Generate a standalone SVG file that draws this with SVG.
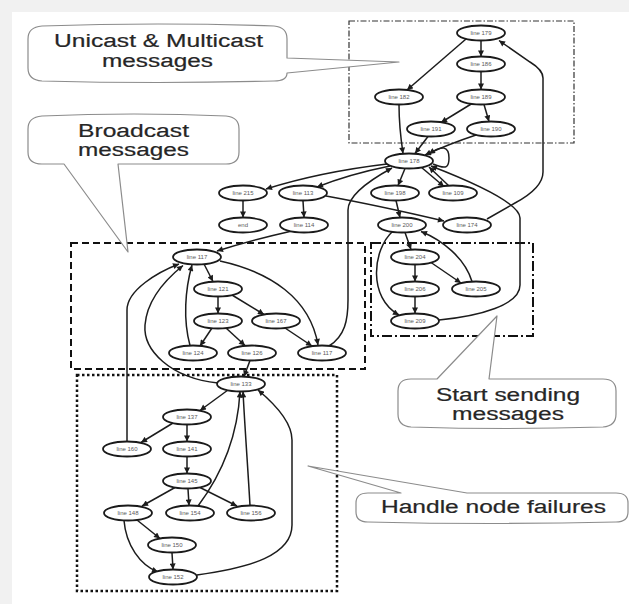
<svg xmlns="http://www.w3.org/2000/svg" width="629" height="604" viewBox="0 0 629 604">
  <style>
    .n ellipse { fill: #fff; stroke: #1a1a1a; stroke-width: 1.8; }
    .n text { font-family: "Liberation Sans", Arial, sans-serif; font-size: 6px; fill: #5a5a5a; text-anchor: middle; }
    .e path { fill: none; stroke: #1c1c1c; stroke-width: 1.5; marker-end: url(#ah); }
    .co path { fill: #fff; stroke: #8c8c8c; stroke-width: 1.2; stroke-linejoin: round; }
    .co text { font-family: "Liberation Sans", Arial, sans-serif; font-size: 18px; fill: #262626; stroke: #262626; stroke-width: 0.2; }
    .grp { fill: none; }
  </style>
  <defs>
    <marker id="ah" viewBox="0 0 10 10" refX="10" refY="5" markerWidth="7" markerHeight="6" markerUnits="userSpaceOnUse" orient="auto">
      <path d="M0,0 L10,5 L0,10 z" fill="#1c1c1c"/>
    </marker>
  </defs>

  <!-- page background -->
  <rect x="0" y="0" width="629" height="604" fill="#f1f1f1"/>
  <rect x="12" y="12" width="617" height="592" fill="#fff"/>

  <!-- group frames -->
  <g id="frames" class="grp">
    <rect x="349" y="21" width="225" height="122" stroke="#333" stroke-width="1.2" stroke-dasharray="6 2 1.5 2"/>
    <rect x="71" y="243" width="294" height="126" stroke="#111" stroke-width="2" stroke-dasharray="7 4"/>
    <rect x="371" y="243" width="162" height="93" stroke="#111" stroke-width="2" stroke-dasharray="10 3 2 3"/>
    <rect x="77" y="375" width="260" height="216" stroke="#111" stroke-width="2.5" stroke-dasharray="2.5 2.5"/>
  </g>

  <!-- callouts -->
  <g id="callout-unicast" class="co">
    <path d="M42,26 Q158,22 274,26 Q287,27 287,39 L287,58 L399,62 L287,73 Q287,81 274,81 Q158,84 42,81 Q28,80 28,68 L28,39 Q28,27 42,26 Z"/>
    <text x="54" y="47" textLength="209" lengthAdjust="spacingAndGlyphs">Unicast &amp; Multicast</text>
    <text x="102" y="67" textLength="111" lengthAdjust="spacingAndGlyphs">messages</text>
  </g>
  <g id="callout-broadcast" class="co">
    <path d="M42,116 Q134,112 226,116 Q239,117 239,129 L239,152 Q239,164 226,164 L118,164 L128,252 L64,164 L42,164 Q28,164 28,152 L28,129 Q28,117 42,116 Z"/>
    <text x="78" y="137" textLength="111" lengthAdjust="spacingAndGlyphs">Broadcast</text>
    <text x="78" y="156" textLength="111" lengthAdjust="spacingAndGlyphs">messages</text>
  </g>
  <g id="callout-start" class="co">
    <path d="M411,379 L437,379 L497,316 L489,379 L603,379 Q616,379 616,391 L616,414 Q616,426 603,427 Q507,430 411,427 Q398,426 398,414 L398,391 Q398,379 411,379 Z"/>
    <text x="436" y="401" textLength="144" lengthAdjust="spacingAndGlyphs">Start sending</text>
    <text x="452" y="420" textLength="112" lengthAdjust="spacingAndGlyphs">messages</text>
  </g>
  <g id="callout-failures" class="co">
    <path d="M368,493 L401,493 L308,466 L467,493 L616,493 Q628,493 628,503 L628,512 Q628,522 616,522 Q492,525 368,522 Q356,522 356,512 L356,503 Q356,493 368,493 Z"/>
    <text x="381" y="513" textLength="225" lengthAdjust="spacingAndGlyphs">Handle node failures</text>
  </g>

  <!-- connectors -->
  <g id="edges" class="e">
    <path d="M481,40.5 L481,56.5"/>
    <path d="M466,39 L407,90"/>
    <path d="M481,71.5 L481,89.5"/>
    <path d="M472,103.5 L441,122.5"/>
    <path d="M484,104.5 L489,121.5"/>
    <path d="M399,104.5 C399,125 401,140 403,153.5"/>
    <path d="M428,136.5 L415,153.5"/>
    <path d="M476,135 C455,142 438,149 425,155"/>
    <path d="M433,164 C447,170 449,167 449,158 C449,146 442,145 429,154"/>
    <path d="M387,164 Q320,172 266,189"/>
    <path d="M390,166 Q350,174 317,187"/>
    <path d="M405,168.5 L398,185.5"/>
    <path d="M421,167 L444,186.5"/>
    <path d="M449,186 L429,167"/>
    <path d="M326,196 C370,204 410,213 444,221"/>
    <path d="M396,200.5 L400,217.5"/>
    <path d="M243,200.5 L243,217.5"/>
    <path d="M303,200.5 L304,217.5"/>
    <path d="M292,231 Q252,240 217,251"/>
    <path d="M329,346 C345,336 348,320 348,300 L348,210 C348,195 370,180 392,168"/>
    <path d="M405,232.5 L411,249.5"/>
    <path d="M393,231 C372,250 368,298 399,315"/>
    <path d="M472,281.5 C465,258 442,240 421,231.5"/>
    <path d="M415,264.5 L415,281.5"/>
    <path d="M431,262.5 L461,283"/>
    <path d="M415,296.5 L415,313.5"/>
    <path d="M439,320 C480,316 520,305 520,285 L520,218 C520,204 480,185 431,166"/>
    <path d="M487,219 L515,203 Q543,188 543,172 L543,78 Q543,70 530,62 L499,40.5"/>
    <path d="M204,264 L213,281.5"/>
    <path d="M220,261 C270,272 310,298 318,345"/>
    <path d="M218,296.5 L218,313.5"/>
    <path d="M232,295 L264,314.5"/>
    <path d="M212,328 L200,346"/>
    <path d="M226,328 L245,345.5"/>
    <path d="M285,328 L312,346"/>
    <path d="M190,345.5 C183,320 185,290 192,265"/>
    <path d="M250,360.5 L244,376.5"/>
    <path d="M218,383 C170,378 143,350 145,325 C147,300 165,280 183,265.5"/>
    <path d="M127,441.5 L127,310 C127,290 158,272 179,264"/>
    <path d="M228,390 L200,410.5"/>
    <path d="M173,423 L141,442.5"/>
    <path d="M187,424.5 L187,441.5"/>
    <path d="M187,456.5 L187,473.5"/>
    <path d="M175,487.5 L142,506"/>
    <path d="M188,488.5 L189,505.5"/>
    <path d="M200,487.5 L237,506"/>
    <path d="M137,520 L160,538.5"/>
    <path d="M124,520.5 C126,545 140,565 158,572"/>
    <path d="M172,552.5 L173,569.5"/>
    <path d="M198,506 C225,470 238,430 240,391.5"/>
    <path d="M250,505.5 C248,470 245,430 243,391.5"/>
    <path d="M197,575 C250,568 292,555 292,525 L292,440 C292,420 270,400 258,390"/>
  </g>

  <!-- nodes -->
  <g id="n179" class="n"><ellipse cx="481" cy="33" rx="24" ry="7.5"/><text x="481" y="35">line 179</text></g>
  <g id="n186" class="n"><ellipse cx="481" cy="64" rx="24" ry="7.5"/><text x="481" y="66">line 186</text></g>
  <g id="n182" class="n"><ellipse cx="399" cy="97" rx="24" ry="7.5"/><text x="399" y="99">line 182</text></g>
  <g id="n189" class="n"><ellipse cx="481" cy="97" rx="24" ry="7.5"/><text x="481" y="99">line 189</text></g>
  <g id="n191" class="n"><ellipse cx="431" cy="129" rx="24" ry="7.5"/><text x="431" y="131">line 191</text></g>
  <g id="n190" class="n"><ellipse cx="491" cy="129" rx="24" ry="7.5"/><text x="491" y="131">line 190</text></g>
  <g id="n178" class="n"><ellipse cx="409" cy="161" rx="24" ry="7.5"/><text x="409" y="163">line 178</text></g>
  <g id="n215" class="n"><ellipse cx="243" cy="193" rx="24" ry="7.5"/><text x="243" y="195">line 215</text></g>
  <g id="n113" class="n"><ellipse cx="303" cy="193" rx="24" ry="7.5"/><text x="303" y="195">line 113</text></g>
  <g id="n198" class="n"><ellipse cx="395" cy="193" rx="24" ry="7.5"/><text x="395" y="195">line 198</text></g>
  <g id="n109" class="n"><ellipse cx="453" cy="193" rx="24" ry="7.5"/><text x="453" y="195">line 109</text></g>
  <g id="nend" class="n"><ellipse cx="243" cy="225" rx="24" ry="7.5"/><text x="243" y="227">end</text></g>
  <g id="n114" class="n"><ellipse cx="304" cy="225" rx="24" ry="7.5"/><text x="304" y="227">line 114</text></g>
  <g id="n200" class="n"><ellipse cx="402" cy="225" rx="24" ry="7.5"/><text x="402" y="227">line 200</text></g>
  <g id="n174" class="n"><ellipse cx="467" cy="225" rx="24" ry="7.5"/><text x="467" y="227">line 174</text></g>
  <g id="n117a" class="n"><ellipse cx="197" cy="257" rx="24" ry="7.5"/><text x="197" y="259">line 117</text></g>
  <g id="n204" class="n"><ellipse cx="415" cy="257" rx="24" ry="7.5"/><text x="415" y="259">line 204</text></g>
  <g id="n121" class="n"><ellipse cx="218" cy="289" rx="24" ry="7.5"/><text x="218" y="291">line 121</text></g>
  <g id="n206" class="n"><ellipse cx="415" cy="289" rx="24" ry="7.5"/><text x="415" y="291">line 206</text></g>
  <g id="n205" class="n"><ellipse cx="476" cy="289" rx="24" ry="7.5"/><text x="476" y="291">line 205</text></g>
  <g id="n123" class="n"><ellipse cx="218" cy="321" rx="24" ry="7.5"/><text x="218" y="323">line 123</text></g>
  <g id="n167" class="n"><ellipse cx="276" cy="321" rx="24" ry="7.5"/><text x="276" y="323">line 167</text></g>
  <g id="n209" class="n"><ellipse cx="415" cy="321" rx="24" ry="7.5"/><text x="415" y="323">line 209</text></g>
  <g id="n124" class="n"><ellipse cx="193" cy="353" rx="24" ry="7.5"/><text x="193" y="355">line 124</text></g>
  <g id="n126" class="n"><ellipse cx="252" cy="353" rx="24" ry="7.5"/><text x="252" y="355">line 126</text></g>
  <g id="n117b" class="n"><ellipse cx="322" cy="353" rx="24" ry="7.5"/><text x="322" y="355">line 117</text></g>
  <g id="n133" class="n"><ellipse cx="241" cy="384" rx="24" ry="7.5"/><text x="241" y="386">line 133</text></g>
  <g id="n137" class="n"><ellipse cx="187" cy="417" rx="24" ry="7.5"/><text x="187" y="419">line 137</text></g>
  <g id="n160" class="n"><ellipse cx="127" cy="449" rx="24" ry="7.5"/><text x="127" y="451">line 160</text></g>
  <g id="n141" class="n"><ellipse cx="187" cy="449" rx="24" ry="7.5"/><text x="187" y="451">line 141</text></g>
  <g id="n145" class="n"><ellipse cx="187" cy="481" rx="24" ry="7.5"/><text x="187" y="483">line 145</text></g>
  <g id="n148" class="n"><ellipse cx="128" cy="513" rx="24" ry="7.5"/><text x="128" y="515">line 148</text></g>
  <g id="n154" class="n"><ellipse cx="190" cy="513" rx="24" ry="7.5"/><text x="190" y="515">line 154</text></g>
  <g id="n156" class="n"><ellipse cx="251" cy="513" rx="24" ry="7.5"/><text x="251" y="515">line 156</text></g>
  <g id="n150" class="n"><ellipse cx="172" cy="545" rx="24" ry="7.5"/><text x="172" y="547">line 150</text></g>
  <g id="n152" class="n"><ellipse cx="173" cy="577" rx="24" ry="7.5"/><text x="173" y="579">line 152</text></g>
</svg>
